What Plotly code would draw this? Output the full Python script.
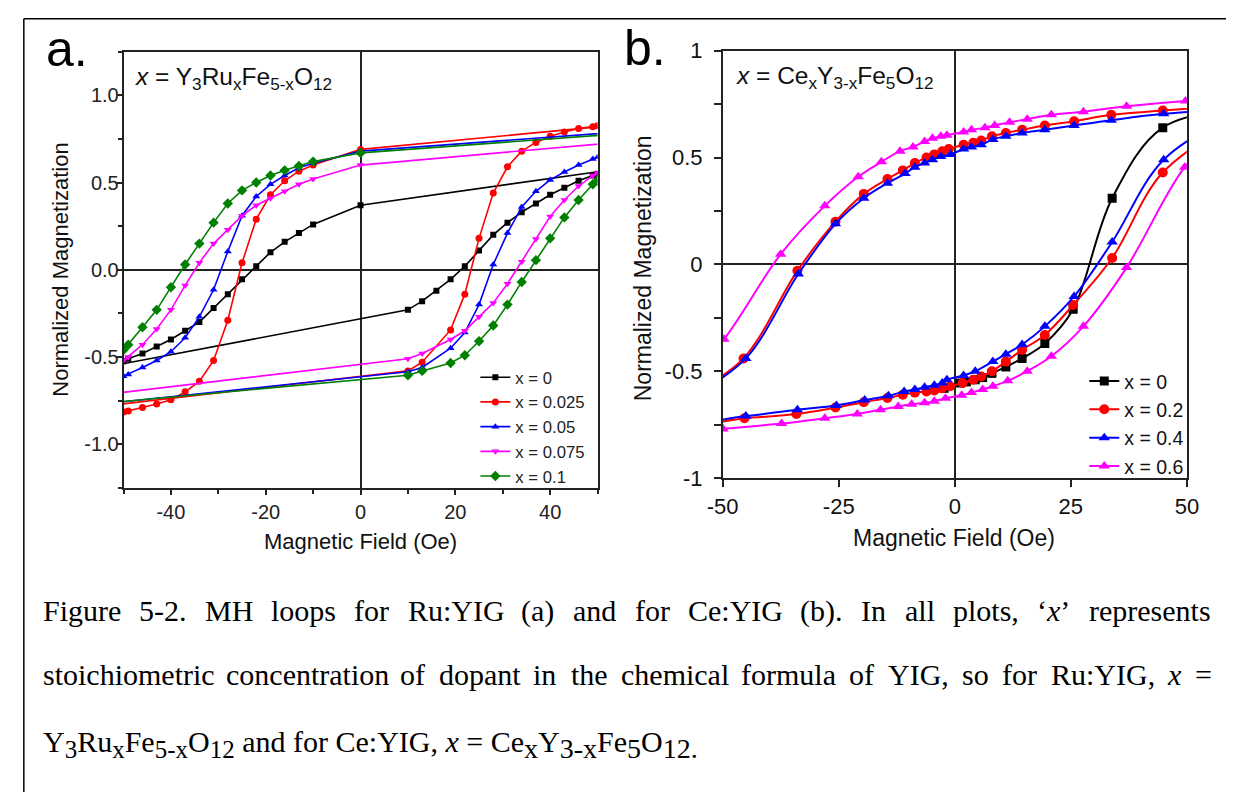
import plotly.graph_objects as go

W, H = 1238, 805

# ---------------- Panel a : Ru:YIG ----------------
a_names = ["x = 0", "x = 0.025", "x = 0.05", "x = 0.075", "x = 0.1"]
a_colors = ["#000000", "#FF0000", "#0000FF", "#FF00FF", "#008000"]
a_symbols = ["square", "circle", "triangle-up", "triangle-down", "diamond"]
a_sizes = [6, 7, 7, 7, 8]

a_H_x0 = [60, 0, -10, -13, -16, -19, -22, -25, -28, -31, -34, -37, -40, -43, -46, -49, -50,
          -60, 10, 13, 16, 19, 22, 25, 28, 31, 34, 37, 40, 43, 46, 49, 50, 60]
a_M_x0 = [0.60, 0.37, 0.26, 0.21, 0.16, 0.10, 0.02, -0.055, -0.14, -0.22, -0.30, -0.35, -0.40, -0.44, -0.48, -0.51, -0.525,
          -0.59, -0.23, -0.18, -0.12, -0.055, 0.02, 0.11, 0.20, 0.27, 0.33, 0.38, 0.43, 0.47, 0.51, 0.54, 0.55, 0.60]

a_H_x025 = [60, 0, -10, -13, -16, -19, -22, -25, -28, -31, -34, -37, -40, -43, -46, -49, -50,
            -60, 10, 13, 19, 22, 25, 28, 31, 34, 37, 40, 43, 46, 49, 50, 60]
a_M_x025 = [0.845, 0.69, 0.60, 0.565, 0.51, 0.43, 0.29, 0.04, -0.29, -0.52, -0.64, -0.70, -0.745, -0.77, -0.79, -0.81, -0.815,
            -0.80, -0.58, -0.53, -0.345, -0.14, 0.18, 0.44, 0.59, 0.68, 0.73, 0.765, 0.79, 0.81, 0.82, 0.825, 0.845]

a_H_x05 = [60, 0, -10, -13, -16, -19, -22, -25, -28, -31, -34, -37, -40, -43, -46, -49, -50,
           -60, 10, 13, 19, 22, 25, 28, 31, 34, 37, 40, 43, 46, 49, 50, 60]
a_M_x05 = [0.80, 0.68, 0.61, 0.585, 0.54, 0.49, 0.42, 0.31, 0.105, -0.115, -0.27, -0.39, -0.47, -0.52, -0.56, -0.60, -0.61,
           -0.785, -0.585, -0.56, -0.45, -0.36, -0.20, 0.03, 0.21, 0.36, 0.45, 0.515, 0.56, 0.60, 0.635, 0.645, 0.80]

a_H_x075 = [60, 0, -10, -13, -16, -19, -22, -25, -28, -31, -34, -37, -40, -43, -46, -49, -50,
            -60, 10, 13, 19, 22, 25, 28, 31, 34, 37, 40, 43, 46, 49, 50, 60]
a_M_x075 = [0.744, 0.60, 0.52, 0.49, 0.45, 0.41, 0.37, 0.31, 0.23, 0.15, 0.04, -0.09, -0.23, -0.34, -0.43, -0.50, -0.52,
            -0.735, -0.51, -0.48, -0.40, -0.35, -0.27, -0.19, -0.08, 0.046, 0.176, 0.305, 0.40, 0.48, 0.54, 0.555, 0.744]

a_H_x1 = [60, 0, -10, -13, -16, -19, -22, -25, -28, -31, -34, -37, -40, -43, -46, -49, -50,
          -60, 10, 13, 19, 22, 25, 28, 31, 34, 37, 40, 43, 46, 49, 50, 60]
a_M_x1 = [0.79, 0.67, 0.62, 0.595, 0.57, 0.54, 0.50, 0.455, 0.38, 0.27, 0.15, 0.03, -0.10, -0.23, -0.33, -0.43, -0.46,
          -0.78, -0.605, -0.58, -0.535, -0.49, -0.41, -0.32, -0.20, -0.07, 0.055, 0.18, 0.30, 0.40, 0.49, 0.51, 0.79]

a_H = [a_H_x0, a_H_x025, a_H_x05, a_H_x075, a_H_x1]
a_M = [a_M_x0, a_M_x025, a_M_x05, a_M_x075, a_M_x1]

a_xticks = [-40, -20, 0, 20, 40]
a_xticklabels = ["-40", "-20", "0", "20", "40"]
a_xminor = [-50, -30, -10, 10, 30, 50]
a_yticks = [-1.0, -0.5, 0.0, 0.5, 1.0]
a_yticklabels = ["-1.0", "-0.5", "0.0", "0.5", "1.0"]
a_yminor = [-1.25, -0.75, -0.25, 0.25, 0.75, 1.25]

# ---------------- Panel b : Ce:YIG ----------------
b_names = ["x = 0", "x = 0.2", "x = 0.4", "x = 0.6"]
b_colors = ["#000000", "#FF0000", "#0000FF", "#FF00FF"]
b_symbols = ["square", "circle", "triangle-up", "triangle-up"]
b_sizes = [9, 10, 10, 10]

b_H_x0 = [-2.3, 1.2, 2.5, 4.4, 6, 8, 11, 14.5, 19.4, 25.5, 33.9, 44.8, 62]
b_M_x0 = [-0.58, -0.555, -0.55, -0.54, -0.53, -0.51, -0.48, -0.44, -0.37, -0.21, 0.31, 0.64, 0.73]

b_H_x2 = [62, 44.8, 33.7, 25.7, 19.4, 14.5, 11, 8, 5.7, 4, 1.9, -1.3, -2.7, -4.4, -6.1, -8.6, -11.2, -14.5, -19.6, -25.7, -33.9, -45.5, -60,
          -60, -45.3, -34.1, -25.7, -19.6, -14.5, -11.2, -8.6, -6.1, -4.4, -2.7, -1, 1.7, 4, 5.7, 8, 11, 14.5, 19.4, 25.5, 33.9, 44.8, 62]
b_M_x2 = [0.75, 0.72, 0.70, 0.67, 0.65, 0.63, 0.615, 0.60, 0.58, 0.57, 0.56, 0.54, 0.53, 0.515, 0.50, 0.475, 0.44, 0.40, 0.33, 0.20, -0.03, -0.44, -0.68,
          -0.75, -0.72, -0.70, -0.67, -0.645, -0.625, -0.61, -0.60, -0.595, -0.59, -0.58, -0.57, -0.555, -0.54, -0.525, -0.50, -0.455, -0.40, -0.33, -0.19, 0.03, 0.43, 0.69]

b_H_x4 = [62, 45, 33.7, 25.7, 19.4, 14.5, 11, 8.2, 5.7, 3.6, 1.9, -0.9, -3, -4.8, -6.5, -8.6, -10.7, -14.5, -19.6, -25.7, -33.7, -45, -60,
          -60, -45, -33.9, -25.5, -19.4, -14.3, -10.9, -8.6, -6.5, -4.4, -2.7, -1.7, 1.9, 4.4, 8.2, 11, 14.5, 19.4, 25.7, 33.9, 45, 62]
b_M_x4 = [0.73, 0.705, 0.675, 0.65, 0.63, 0.615, 0.60, 0.585, 0.56, 0.55, 0.54, 0.515, 0.505, 0.49, 0.475, 0.455, 0.425, 0.38, 0.31, 0.19, -0.045, -0.44, -0.69,
          -0.74, -0.71, -0.68, -0.66, -0.635, -0.615, -0.595, -0.585, -0.575, -0.565, -0.555, -0.54, -0.52, -0.50, -0.455, -0.42, -0.375, -0.29, -0.15, 0.105, 0.49, 0.72]

b_H_x6 = [62, 49.7, 37, 27.7, 20.8, 15.6, 11.8, 8.6, 6.5, 3.6, 1.9, -1.7, -3, -4.8, -6.5, -9, -11.8, -15.8, -20.8, -28, -37.5, -49.7, -60,
          -60, -49.9, -37.3, -28, -21, -16, -12.2, -9.3, -6.5, -4.4, -2, 1.5, 3.6, 6, 8.2, 11.4, 15.6, 20.8, 27.7, 37, 49.5, 62]
b_M_x6 = [0.78, 0.765, 0.74, 0.715, 0.70, 0.68, 0.665, 0.65, 0.64, 0.63, 0.62, 0.605, 0.60, 0.59, 0.575, 0.55, 0.53, 0.48, 0.41, 0.274, 0.048, -0.35, -0.60,
          -0.79, -0.77, -0.745, -0.72, -0.70, -0.68, -0.665, -0.655, -0.648, -0.64, -0.627, -0.612, -0.60, -0.585, -0.57, -0.545, -0.50, -0.43, -0.29, -0.015, 0.455, 0.74]

b_H = [b_H_x0, b_H_x2, b_H_x4, b_H_x6]
b_M = [b_M_x0, b_M_x2, b_M_x4, b_M_x6]

b_xticks = [-50, -25, 0, 25, 50]
b_xticklabels = ["-50", "-25", "0", "25", "50"]
b_yticks = [-1, -0.5, 0, 0.5, 1]
b_yticklabels = ["-1", "-0.5", "0", "0.5", "1"]
b_yminor = [-0.75, -0.25, 0.25, 0.75]

# ---------------- Caption ----------------
SUB1 = '<sub><span style="font-size:25px">%s</span></sub>'
SUB2 = '<sub><span style="font-size:28px">%s</span></sub>'
cap_line1 = ["Figure", "5-2.", "MH", "loops", "for", "Ru:YIG", "(a)", "and", "for", "Ce:YIG", "(b).",
             "In", "all", "plots,", "\u2018<i>x</i>\u2019", "represents"]
cap_line2 = ["stoichiometric", "concentration", "of", "dopant", "in", "the", "chemical", "formula", "of",
             "YIG,", "so", "for", "Ru:YIG,", "<i>x</i>", "="]
cap_line3 = ("Y" + SUB1 % "3" + "Ru" + SUB1 % "x" + "Fe" + SUB1 % "5-x" + "O" + SUB1 % "12" +
             " and for Ce:YIG, <i>x</i> = " +
             "Ce" + SUB2 % "x" + "Y" + SUB2 % "3-x" + "Fe" + SUB2 % "5" + "O" + SUB2 % "12.")

# ---------------- Figure ----------------
fig = go.Figure()
AX = "#222222"
SANS = "Liberation Sans"
SERIF = "Liberation Serif"

for name, c, s, sz, hx, my in zip(a_names, a_colors, a_symbols, a_sizes, a_H, a_M):
    fig.add_trace(go.Scatter(x=hx, y=my, mode="lines+markers", name=name,
                             line=dict(color=c, width=1.6),
                             marker=dict(symbol=s, size=sz, color=c, line=dict(width=0)),
                             xaxis="x", yaxis="y", legend="legend"))

for name, c, s, sz, hx, my in zip(b_names, b_colors, b_symbols, b_sizes, b_H, b_M):
    fig.add_trace(go.Scatter(x=hx, y=my, mode="lines+markers", name=name,
                             line=dict(color=c, width=2, shape="spline", smoothing=1.0),
                             marker=dict(symbol=s, size=sz, color=c, line=dict(width=0)),
                             xaxis="x2", yaxis="y2", legend="legend2"))

common = dict(showline=True, linecolor=AX, linewidth=1.5, mirror=True, showgrid=False,
              zeroline=True, zerolinecolor=AX, zerolinewidth=1.5, ticks="outside",
              tickcolor=AX, tickwidth=1.5, tickmode="array")

fig.update_layout(
    width=W, height=H, autosize=False,
    margin=dict(l=0, r=0, t=0, b=0),
    paper_bgcolor="white", plot_bgcolor="white",
    font=dict(family=SANS, color=AX, size=16),
    xaxis=dict(domain=[110 / W, 595 / W], range=[-50, 50], anchor="y",
               tickvals=a_xticks, ticktext=a_xticklabels, ticklen=5,
               tickfont=dict(size=20, color=AX),
               minor=dict(tickvals=a_xminor, ticks="outside", ticklen=4, tickwidth=1.5, tickcolor=AX),
               **common),
    yaxis=dict(domain=[1 - 491 / H, 1 - 41 / H], range=[-1.25, 1.25], anchor="x",
               tickvals=a_yticks, ticktext=a_yticklabels, ticklen=5, ticklabelstandoff=-6,
               tickfont=dict(size=20, color=AX),
               minor=dict(tickvals=a_yminor, ticks="outside", ticklen=4, tickwidth=1.5, tickcolor=AX),
               **common),
    xaxis2=dict(domain=[723 / W, 1198 / W], range=[-50, 50], anchor="y2",
                tickvals=b_xticks, ticktext=b_xticklabels, ticklen=7, ticklabelstandoff=1,
                tickfont=dict(size=22, color="#111"),
                **common),
    yaxis2=dict(domain=[1 - 481 / H, 1 - 40 / H], range=[-1, 1], anchor="x2",
                tickvals=b_yticks, ticktext=b_yticklabels, ticklen=7, ticklabelstandoff=7,
                tickfont=dict(size=22, color="#111"),
                minor=dict(tickvals=b_yminor, ticks="outside", ticklen=7, tickwidth=1.5, tickcolor=AX),
                **common),
    legend=dict(x=470 / W, xanchor="left", y=1 - 359 / H, yanchor="top",
                bgcolor="rgba(0,0,0,0)", borderwidth=0, font=dict(size=16.7, color=AX)),
    legend2=dict(x=1093 / W, xanchor="left", y=1 - 361 / H, yanchor="top",
                 bgcolor="rgba(0,0,0,0)", borderwidth=0, font=dict(size=19.5, color="#111")),
)

ann = []
def add_text(text, xpx, ypx, size, family=SANS, xanchor="left", yanchor="middle", angle=0, color="#000"):
    ann.append(dict(text=text, x=xpx / W, y=1 - ypx / H, xref="paper", yref="paper",
                    xanchor=xanchor, yanchor=yanchor, showarrow=False, textangle=angle,
                    font=dict(size=size, family=family, color=color)))

# panel labels
add_text("a.", 29, 38, 50)
add_text("b.", 620, 37, 50)
# inset formulas
add_text("<i>x</i> = Y<sub>3</sub>Ru<sub>x</sub>Fe<sub>5-x</sub>O<sub>12</sub>", 120, 69, 24.5, color="#111")
add_text("<i>x</i> = Ce<sub>x</sub>Y<sub>3-x</sub>Fe<sub>5</sub>O<sub>12</sub>", 735, 68, 24.5, color="#111")
# axis titles
add_text("Magnetic Field (Oe)", 352, 546, 22, xanchor="center", color="#111")
add_text("Magnetic Field (Oe)", 960, 543, 23, xanchor="center", color="#111")
add_text("Normalized Magnetization", 46, 266, 22, xanchor="center", angle=-90, color="#111")
add_text("Normalized Magnetization", 641, 265, 23, xanchor="center", angle=-90, color="#111")

# caption (justified lines laid out with Times metrics)
TW = {' ': 250, '(': 333, ')': 333, ',': 250, '-': 333, '.': 250, ':': 278, '=': 564,
      '\u2018': 333, '\u2019': 333}
for ch in "0123456789":
    TW[ch] = 500
TW.update(dict(A=722, B=667, C=667, D=722, E=611, F=556, G=722, H=722, I=333, J=389, K=722, L=611,
               M=889, N=722, O=722, P=556, Q=722, R=667, S=556, T=611, U=722, V=722, W=944, X=722,
               Y=722, Z=611))
TW.update(dict(a=444, b=500, c=444, d=500, e=444, f=333, g=500, h=500, i=278, j=278, k=500, l=278,
               m=778, n=500, o=500, p=500, q=500, r=333, s=389, t=278, u=500, v=500, w=722, x=500,
               y=500, z=444))

def word_width(wd, size):
    italic_x = wd.count("<i>x</i>")
    plain = wd.replace("<i>", "").replace("</i>", "")
    return (sum(TW.get(ch, 500) for ch in plain) - 56 * italic_x) * size / 1000.0

CAP_SIZE = 30
def justify(words, x0, x1, ymid):
    widths = [word_width(wd, CAP_SIZE) for wd in words]
    gap = (x1 - x0 - sum(widths)) / (len(words) - 1)
    xpos = x0
    for wd, w in zip(words, widths):
        add_text(wd, xpos - 1, ymid, CAP_SIZE, family=SERIF)
        xpos += w + gap

justify(cap_line1, 27, 1218, 618)
justify(cap_line2, 27, 1222, 684)
add_text(cap_line3, 26, 756, CAP_SIZE, family=SERIF)

fig.update_layout(annotations=ann)

# page frame (top and left border of the scanned page)
fig.add_shape(type="line", xref="paper", yref="paper", x0=8 / W, x1=1.0, y0=1 - 7 / H, y1=1 - 7 / H,
              line=dict(color="#000", width=1.5), layer="below")
fig.add_shape(type="line", xref="paper", yref="paper", x0=8 / W, x1=8 / W, y0=0.0, y1=1 - 7 / H,
              line=dict(color="#000", width=1.5), layer="below")

fig.write_html("out.html")
